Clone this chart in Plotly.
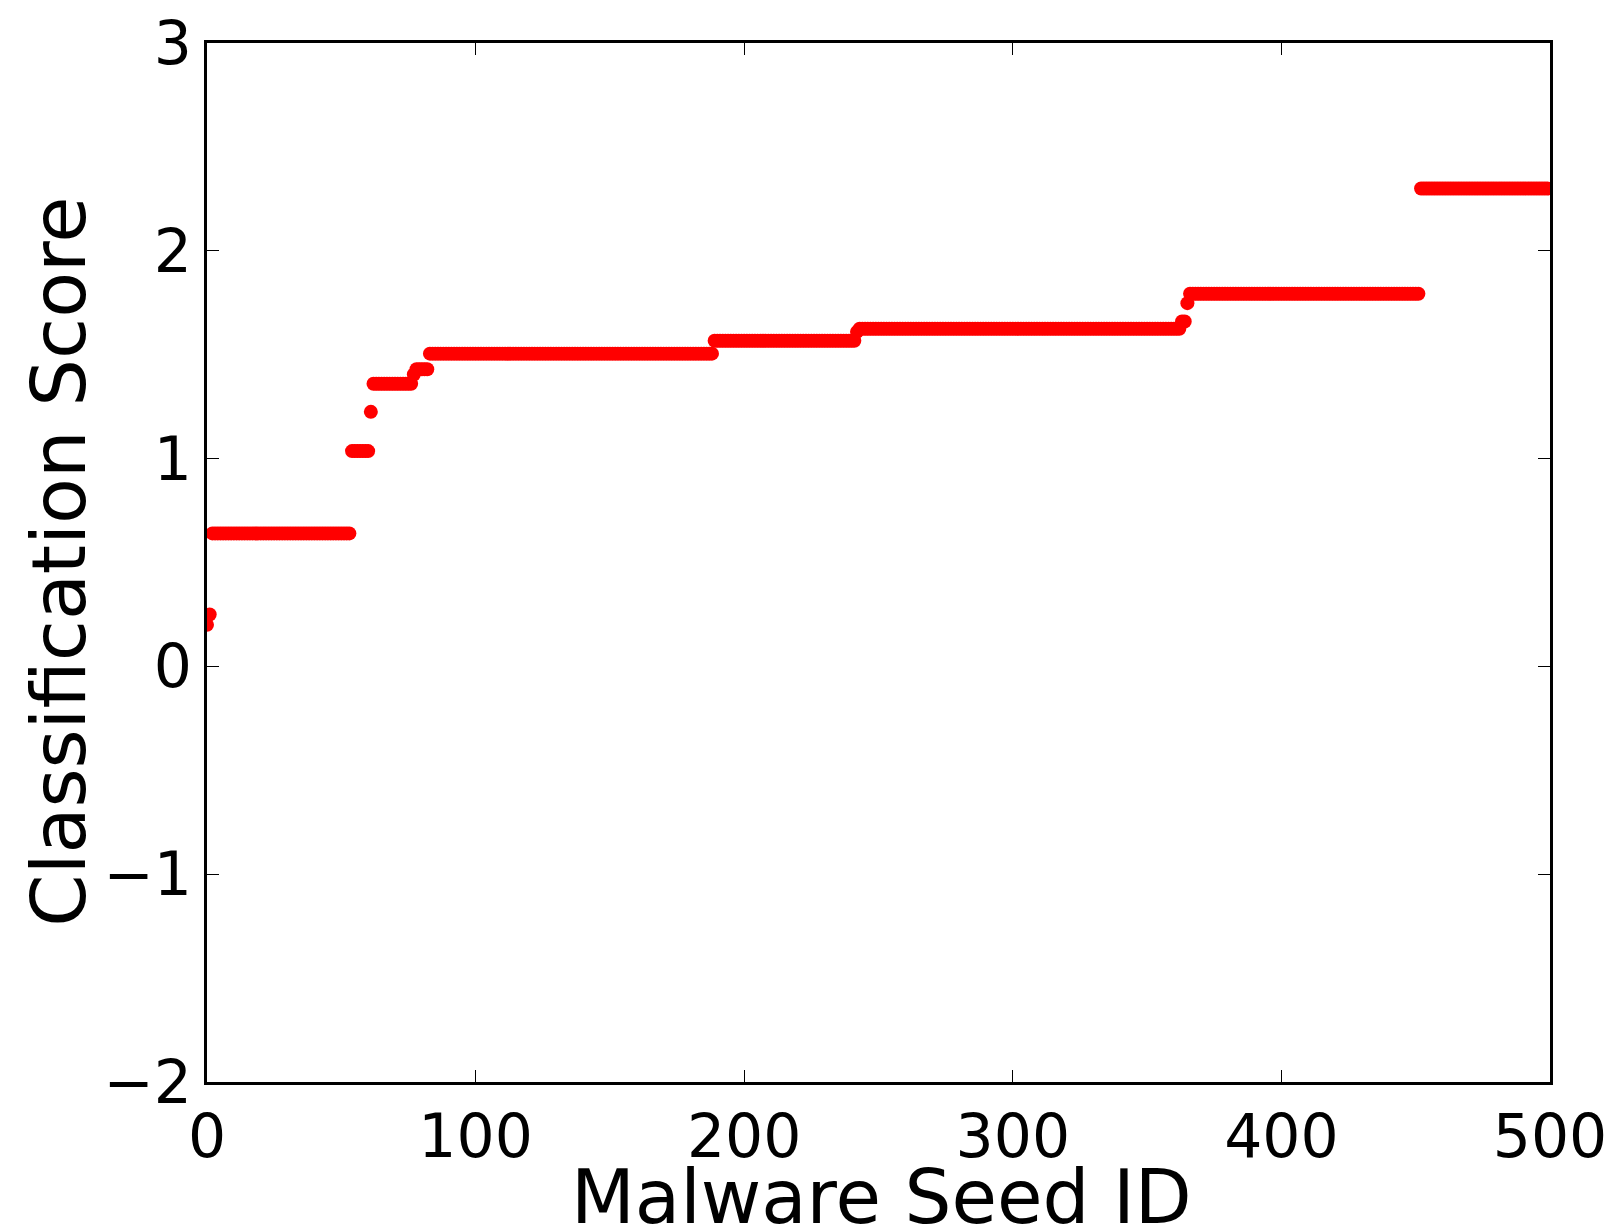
import numpy as np
import plotly.graph_objects as go

# Sorted classification scores, stored as step levels and how many seeds sit on each level
score_levels = [0.20, 0.25, 0.64, 1.036, 1.225, 1.36, 1.405, 1.43, 1.505, 1.567,
                1.61, 1.625, 1.66, 1.748, 1.793, 2.30]
seed_counts = [1, 1, 52, 7, 1, 15, 1, 5, 106, 53, 1, 120, 2, 1, 86, 48]

x_tick_vals = [0, 100, 200, 300, 400, 500]
x_tick_text = ["0", "100", "200", "300", "400", "500"]
y_tick_vals = [-2, -1, 0, 1, 2, 3]
y_tick_text = ["\u22122", "\u22121", "0", "1", "2", "3"]

scores = np.repeat(score_levels, seed_counts)
seed_ids = np.arange(len(scores))

FONT = "DejaVu Sans"

fig = go.Figure()
fig.add_trace(go.Scatter(
    x=seed_ids, y=scores, mode="markers",
    marker=dict(color="#ff0000", size=14, line=dict(width=0)),
    showlegend=False, cliponaxis=True,
))

axis_common = dict(
    showgrid=False, zeroline=False, showline=True, linecolor="black", linewidth=3,
    mirror="allticks", ticks="inside", ticklen=12, tickwidth=1.3, tickcolor="black",
    tickfont=dict(family=FONT, size=60, color="black"), automargin=False,
)

fig.update_xaxes(range=[0, 500], tickvals=x_tick_vals, ticktext=x_tick_text, **axis_common)
fig.update_yaxes(range=[-2, 3], tickvals=y_tick_vals, ticktext=y_tick_text, **axis_common)

fig.update_layout(
    width=1614, height=1231,
    margin=dict(l=207, r=64, t=43, b=149, autoexpand=False),
    paper_bgcolor="white", plot_bgcolor="white",
    annotations=[
        dict(text="Malware Seed ID", xref="paper", yref="paper", x=0.502, y=-0.111,
             xanchor="center", yanchor="middle", showarrow=False,
             font=dict(family=FONT, size=74, color="black")),
        dict(text="Classification Score", xref="paper", yref="paper", x=-0.110, y=0.501,
             xanchor="center", yanchor="middle", showarrow=False, textangle=-90,
             font=dict(family=FONT, size=75, color="black")),
    ],
)

fig.write_html("out.html")
